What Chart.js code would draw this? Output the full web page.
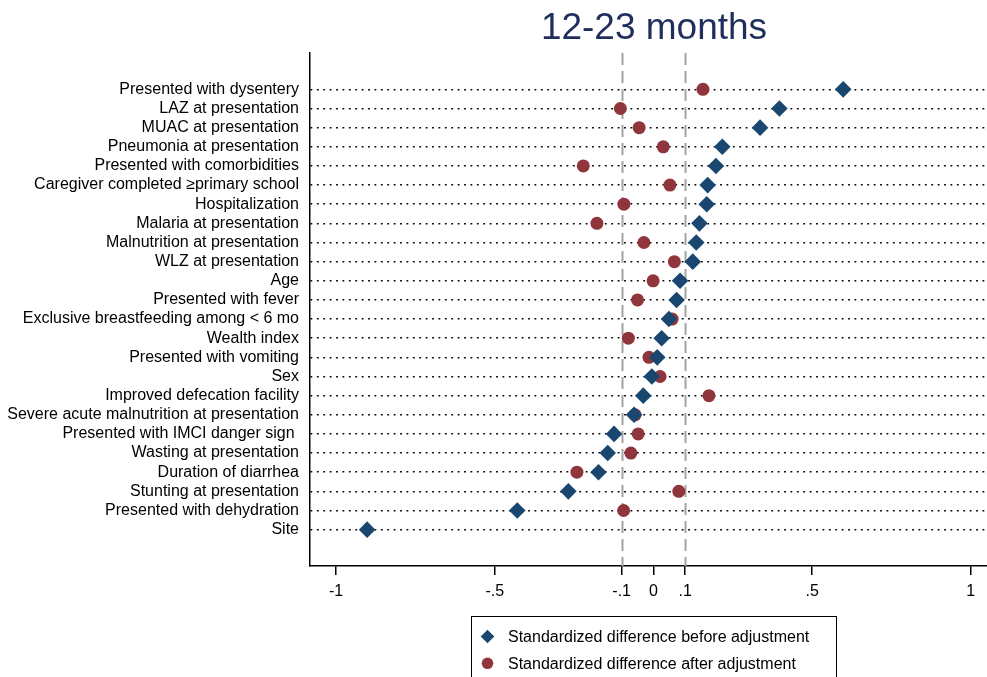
<!DOCTYPE html>
<html>
<head>
<meta charset="utf-8">
<title>12-23 months</title>
<script src="https://cdn.jsdelivr.net/npm/chart.js@4.4.1/dist/chart.umd.min.js"></script>
<style>
  body { margin: 0; background: #fff; }
  canvas { display: block; }
</style>
</head>
<body>
<canvas id="chart" width="987" height="677"></canvas>
<script>
var categories = [
  "Presented with dysentery",
  "LAZ at presentation",
  "MUAC at presentation",
  "Pneumonia at presentation",
  "Presented with comorbidities",
  "Caregiver completed \u2265primary school",
  "Hospitalization",
  "Malaria at presentation",
  "Malnutrition at presentation",
  "WLZ at presentation",
  "Age",
  "Presented with fever",
  "Exclusive breastfeeding among < 6 mo",
  "Wealth index",
  "Presented with vomiting",
  "Sex",
  "Improved defecation facility",
  "Severe acute malnutrition at presentation",
  "Presented with IMCI danger sign ",
  "Wasting at presentation",
  "Duration of diarrhea",
  "Stunting at presentation",
  "Presented with dehydration",
  "Site"
];
var before = [0.598, 0.397, 0.336, 0.217, 0.197, 0.171, 0.168, 0.145, 0.135, 0.124, 0.084, 0.073,
  0.049, 0.026, 0.012, -0.005, -0.032, -0.061, -0.124, -0.144, -0.173, -0.268, -0.429, -0.902];
var after = [0.156, -0.104, -0.045, 0.031, -0.221, 0.052, -0.093, -0.178, -0.030, 0.066, -0.001, -0.050,
  0.059, -0.079, -0.014, 0.021, 0.175, -0.058, -0.048, -0.071, -0.241, 0.080, -0.094, null];
var xTicks = [-1, -0.5, -0.1, 0, 0.1, 0.5, 1];
var refLines = [-0.1, 0.1];
var titleText = "12-23 months";
var legendLabels = ["Standardized difference before adjustment", "Standardized difference after adjustment"];

var navy = "#1a476f";
var maroon = "#90353b";
var fontFamily = "'Liberation Sans', Arial, Helvetica, sans-serif";

function toPoints(values) {
  var pts = [];
  values.forEach(function (v, i) {
    if (v !== null) pts.push({ x: v, y: i });
  });
  return pts;
}

function stataNum(v) {
  if (v === 0) return "0";
  return String(v).replace("0.", ".");
}

var refLinePlugin = {
  id: "refLines",
  beforeDatasetsDraw: function (chart) {
    var ctx = chart.ctx;
    var xs = chart.scales.x;
    var area = chart.chartArea;
    ctx.save();
    ctx.strokeStyle = "#a3a3a3";
    ctx.lineWidth = 2;
    ctx.setLineDash([12, 6]);
    refLines.forEach(function (v) {
      var px = Math.round(xs.getPixelForValue(v)) + 0.5;
      ctx.beginPath();
      ctx.moveTo(px, area.top);
      ctx.lineTo(px, area.bottom);
      ctx.stroke();
    });
    ctx.restore();
  }
};

var titleLegendPlugin = {
  id: "titleLegend",
  afterDraw: function (chart) {
    var ctx = chart.ctx;
    ctx.save();
    ctx.fillStyle = "#1f2e5c";
    ctx.font = "37px " + fontFamily;
    ctx.textAlign = "center";
    ctx.textBaseline = "alphabetic";
    ctx.fillText(titleText, 654, 39);

    // legend box
    ctx.strokeStyle = "#000";
    ctx.lineWidth = 1;
    ctx.strokeRect(471.5, 616.5, 365, 100);

    var ds = chart.data.datasets;
    var rows = [636.5, 663.3];
    ctx.font = "16px " + fontFamily;
    ctx.textAlign = "left";
    ctx.textBaseline = "middle";
    ds.forEach(function (d, i) {
      var cx = 487.5, cy = rows[i];
      ctx.fillStyle = d.backgroundColor;
      ctx.beginPath();
      if (d.pointStyle === "rectRot") {
        var r = 6.8;
        ctx.moveTo(cx, cy - r);
        ctx.lineTo(cx + r, cy);
        ctx.lineTo(cx, cy + r);
        ctx.lineTo(cx - r, cy);
        ctx.closePath();
      } else {
        ctx.arc(cx, cy, 5.8, 0, Math.PI * 2);
      }
      ctx.fill();
      ctx.fillStyle = "#000";
      ctx.fillText(legendLabels[i], 508, cy + 1);
    });
    ctx.restore();
  }
};

var chart = new Chart("chart", {
  type: "scatter",
  data: {
    datasets: [
      {
        label: legendLabels[0],
        data: toPoints(before),
        pointStyle: "rectRot",
        pointRadius: 8.3,
        pointHoverRadius: 8.3,
        backgroundColor: navy,
        borderWidth: 0
      },
      {
        label: legendLabels[1],
        data: toPoints(after),
        pointStyle: "circle",
        pointRadius: 6.5,
        pointHoverRadius: 6.5,
        backgroundColor: maroon,
        borderWidth: 0
      }
    ]
  },
  options: {
    responsive: false,
    animation: false,
    layout: { autoPadding: false, padding: { top: 53, right: 0, left: 0, bottom: 0 } },
    plugins: {
      legend: { display: false },
      tooltip: { enabled: false },
      title: { display: false }
    },
    scales: {
      x: {
        type: "linear",
        min: -1.082,
        max: 1.051,
        afterBuildTicks: function (scale) {
          scale.ticks = xTicks.map(function (v) { return { value: v }; });
        },
        afterFit: function (scale) {
          scale.height = 111;
          scale.paddingLeft = 0;
          scale.paddingRight = 0;
        },
        ticks: {
          callback: function (v) { return stataNum(v); },
          color: "#000",
          font: { family: fontFamily, size: 16 },
          padding: 7,
          maxRotation: 0,
          autoSkip: false
        },
        grid: { drawOnChartArea: false, tickLength: 9, color: "#000", lineWidth: 1.5 },
        border: { color: "#000", width: 1.5 }
      },
      y: {
        type: "linear",
        reverse: true,
        min: -1.9,
        max: 24.9,
        afterBuildTicks: function (scale) {
          scale.ticks = categories.map(function (c, i) { return { value: i }; });
        },
        afterFit: function (scale) {
          scale.width = 310;
          scale.paddingTop = 0;
          scale.paddingBottom = 0;
        },
        ticks: {
          callback: function (v) { return categories[v]; },
          color: "#000",
          font: { family: fontFamily, size: 16 },
          padding: 11,
          autoSkip: false
        },
        grid: { drawTicks: false, color: "#000", lineWidth: 1.6 },
        border: { color: "#000", width: 1.5, dash: [1.8, 4.6] }
      }
    }
  },
  plugins: [refLinePlugin, titleLegendPlugin]
});
</script>
</body>
</html>
